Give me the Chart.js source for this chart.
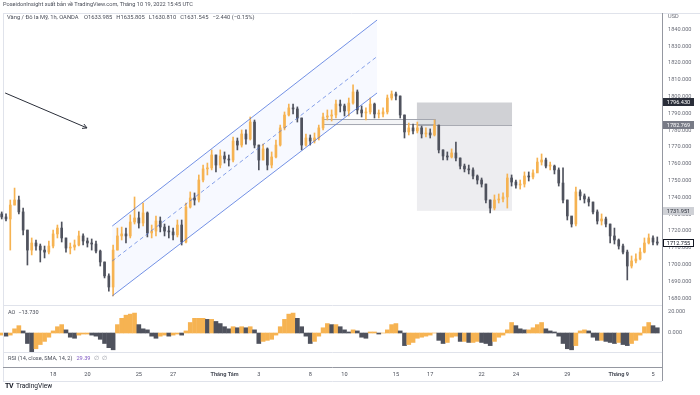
<!DOCTYPE html>
<html>
<head>
<meta charset="utf-8">
<script src="https://cdn.jsdelivr.net/npm/chart.js@4.4.0/dist/chart.umd.min.js"></script>
<style>
body{margin:0;background:#fff;font-family:Roboto,"Liberation Sans",sans-serif;}
#wrap{position:relative;width:700px;height:395px;overflow:hidden;}
#c{position:absolute;left:0;top:0;}
.t{position:absolute;white-space:nowrap;color:#131722;line-height:1;}
#pub{left:3px;top:2px;font-size:5.6px;color:#4a4e59;}
#sym{left:7px;top:15px;font-size:5.8px;color:#4a4e59;}
#sym span{margin-left:4px;}
#ao{left:8px;top:310px;font-size:5.6px;color:#4a4e59;}
#rsi{left:8px;top:356px;font-size:5.6px;color:#4a4e59;}
#rsi .v{color:#7e57c2;margin-left:4px;}
#rsi .n{color:#9598a1;margin-left:3px;}
#logo{left:5px;top:383px;font-size:6.6px;color:#131722;}
#logo b{font-size:7px;letter-spacing:-0.5px;margin-right:3px;}
</style>
</head>
<body>
<div id="wrap">
<canvas id="c" width="700" height="395"></canvas>
<div class="t" id="pub">PoseidonInsight xuất bản về TradingView.com, Tháng 10 19, 2022 15:45 UTC</div>
<div class="t" id="sym">Vàng / Đô la Mỹ, 1h, OANDA <span>O1633.985</span><span>H1635.805</span><span>L1630.810</span><span>C1631.545</span><span>−2.440 (−0.15%)</span></div>
<div class="t" id="ao">AO&nbsp;&nbsp;−13.730</div>
<div class="t" id="rsi">RSI (14, close, SMA, 14, 2)<span class="v">29.39</span><span class="n">∅</span><span class="n">∅</span></div>
<div class="t" id="logo"><b>TV</b>TradingView</div>
</div>
<script>
// gia dong cua, cao, thap (moi nen ~ 6 gio)
const closes = [1728.3,1727.1,1735.4,1738.4,1731.3,1720.5,1708.6,1712.8,1711.0,1708.6,
1707.4,1711.0,1718.2,1721.7,1715.8,1709.8,1710.4,1711.6,1717.0,1714.0,
1712.8,1712.2,1708.0,1701.5,1693.2,1686.6,1708.6,1717.0,1718.2,1717.0,
1725.3,1727.7,1724.7,1730.7,1718.8,1719.9,1725.9,1722.3,1719.9,1719.4,
1717.6,1723.5,1713.4,1734.2,1739.6,1738.4,1750.3,1756.9,1757.5,1765.2,
1759.2,1764.6,1762.8,1762.2,1773.5,1771.1,1777.7,1774.7,1784.8,1771.1,
1762.2,1768.8,1759.2,1764.0,1771.1,1781.3,1789.0,1793.2,1792.6,1787.2,
1771.1,1775.3,1773.5,1775.3,1781.3,1787.8,1788.4,1789.0,1795.5,1794.4,
1791.4,1796.1,1802.7,1792.0,1790.2,1790.8,1795.5,1789.6,1789.6,1790.8,
1799.1,1801.5,1800.3,1789.0,1778.9,1781.3,1779.5,1781.3,1777.7,1778.3,
1777.1,1783.0,1768.2,1764.6,1764.0,1766.4,1763.4,1758.6,1756.9,1756.3,
1752.7,1750.3,1747.9,1738.4,1733.6,1738.4,1739.0,1740.2,1751.5,1749.1,
1747.3,1747.9,1752.7,1752.1,1754.5,1761.0,1762.2,1758.6,1758.6,1756.3,
1748.5,1738.4,1728.9,1724.1,1743.2,1740.8,1739.0,1737.2,1731.3,1725.9,
1727.1,1724.1,1717.0,1714.6,1711.0,1707.4,1699.1,1702.1,1703.3,1707.4,
1712.8,1715.8,1713.4,1712.755];
const highs = [1731.3,1730.1,1738.4,1745.5,1740.8,1733.6,1720.5,1715.8,1714.6,1712.2,
1711.0,1714.0,1720.5,1723.5,1725.3,1715.8,1712.8,1714.6,1719.9,1718.2,
1715.8,1715.2,1714.0,1708.6,1701.5,1694.4,1711.6,1721.7,1722.3,1721.7,
1729.5,1740.2,1731.3,1736.6,1731.3,1723.5,1728.9,1728.3,1724.1,1722.9,
1721.7,1726.5,1726.5,1736.6,1743.2,1742.6,1753.3,1759.2,1760.4,1768.2,
1765.2,1768.2,1767.0,1765.2,1775.9,1775.3,1780.1,1780.1,1787.8,1786.0,
1771.1,1771.7,1769.4,1767.0,1774.1,1783.0,1790.8,1795.5,1795.5,1793.8,
1787.2,1777.7,1777.1,1778.3,1783.0,1790.2,1792.0,1792.0,1797.9,1797.9,
1795.5,1799.1,1806.9,1803.9,1794.4,1793.2,1799.1,1796.1,1792.0,1793.2,
1800.9,1803.3,1802.7,1800.3,1789.0,1784.2,1783.6,1784.8,1782.4,1781.3,
1780.7,1786.0,1783.0,1768.2,1767.0,1768.8,1772.9,1763.4,1759.8,1759.2,
1757.5,1753.3,1751.5,1747.9,1738.4,1741.4,1742.0,1742.6,1753.9,1753.3,
1750.3,1750.3,1755.1,1755.1,1756.3,1763.4,1765.8,1763.4,1761.0,1759.2,
1757.5,1757.5,1738.4,1728.3,1746.1,1744.4,1742.0,1740.2,1737.2,1732.5,
1730.1,1728.3,1724.1,1721.7,1715.2,1712.2,1708.6,1705.1,1706.3,1709.8,
1715.8,1718.2,1717.0,1716.4];
const lows = [1727.1,1725.9,1708.6,1735.4,1730.1,1717.6,1699.7,1705.7,1708.6,1701.5,
1703.9,1706.3,1709.8,1715.8,1713.4,1707.4,1706.3,1708.6,1711.0,1711.6,
1710.4,1708.6,1706.9,1699.1,1692.0,1684.2,1681.3,1708.6,1714.6,1712.8,
1715.8,1724.1,1721.7,1722.9,1716.4,1715.8,1717.0,1719.4,1717.0,1715.8,
1714.6,1716.4,1711.6,1712.8,1733.6,1735.4,1737.2,1749.1,1753.3,1756.3,
1755.1,1757.5,1760.4,1758.6,1761.0,1768.2,1769.9,1771.7,1774.1,1769.4,
1756.3,1762.2,1756.3,1757.5,1763.4,1770.5,1780.1,1788.4,1789.6,1784.8,
1768.2,1770.5,1771.1,1772.3,1774.1,1780.1,1786.0,1785.4,1787.2,1790.8,
1788.4,1788.4,1795.5,1789.6,1787.8,1786.0,1789.6,1787.2,1787.2,1787.8,
1789.6,1797.9,1797.9,1787.2,1775.3,1777.1,1777.7,1778.3,1775.3,1775.9,
1775.3,1776.5,1766.4,1762.2,1762.2,1763.4,1761.6,1756.9,1755.1,1753.9,
1750.9,1747.9,1746.1,1736.6,1730.7,1732.5,1736.6,1737.2,1733.6,1746.7,
1745.5,1744.9,1746.1,1749.7,1750.9,1755.1,1759.2,1757.5,1756.3,1753.9,
1746.7,1736.6,1726.5,1722.3,1722.9,1738.4,1736.6,1734.8,1730.1,1724.1,
1723.5,1722.3,1712.8,1712.2,1709.2,1706.3,1690.8,1697.9,1700.9,1702.7,
1706.9,1712.2,1711.6,1711.6];
const firstOpen = 1730.1;
// mo cua = dong cua cua nen truoc
const opens = [firstOpen].concat(closes.slice(0, -1));

const aoValues = [-2,-3,-2,4,7,2,-10,-18,-15,-11,
-8,-4,2,6,8,3,-4,-5,-2,-1,
-1,-2,-3,-6,-10,-14,-16,8,14,17,
18,19,8,4,3,-3,-5,-3,-2,-3,
-2,-1,-2,2,10,14,14,14,13,13,
11,9,6,4,6,5,6,5,6,3,
-10,-8,-7,-6,-2,6,13,18,19,14,
6,-3,-10,-8,-3,5,9,8,8,6,
3,1,3,2,-4,-5,1,1,-1,0,
3,8,9,2,-12,-11,-9,-5,-4,-3,
-2,0,-7,-10,-9,-4,-3,-8,-8,-9,
-9,-8,-9,-10,-12,-8,-4,-2,3,10,
7,4,3,3,5,8,10,4,2,1,
-3,-10,-15,-16,-12,2,3,2,-4,-7,
-7,-8,-9,-10,-9,-11,-12,-10,-7,-2,
6,10,7,5];

const tickPos = [12,20,32,40,52,60,72,80,92,100,112,120,132,144,152];
const tickLabels = ['18','20','25','27','Tháng Tám','3','8','10','15','17','22','24','29','Tháng 9','5'];
const priceTicks = [1680,1690,1700,1710,1720,1730,1740,1750,1760,1770,1780,1790,1800,1810,1820,1830,1840];
const aoTicks = [0, 20];

// ve tay tren bieu do (toa do = chi so nen, gia)
const channelX = [25.8, 87.6];
const channelUpper = [1722.9, 1845.5];
const channelLower = [1681.3, 1802.1];
const zoneX = [96.9, 119.1];
const zoneLevels = [1796.430, 1782.769, 1731.951];
const rangeBoxX = [75.0, 101.1];
const rangeBoxY = [1786.6, 1783.6];
const arrowX = [0.8, 19.9];
const arrowY = [1802.1, 1781.3];
const lastPrice = 1712.755;

const UP = '#f6b352';
const DOWN = '#4f525d';

function candleColor(i){ return closes[i] >= opens[i] ? UP : DOWN; }

const drawings = {
    id: 'drawings',
    beforeDatasetsDraw(chart) {
        const {ctx, chartArea, scales: {x, y}} = chart;
        ctx.save();
        ctx.beginPath();
        ctx.rect(chartArea.left, y.top, chartArea.width, y.bottom - y.top);
        ctx.clip();
        // vung hop
        const zx0 = x.getPixelForValue(zoneX[0]), zx1 = x.getPixelForValue(zoneX[1]);
        const z0 = y.getPixelForValue(zoneLevels[0]), z1 = y.getPixelForValue(zoneLevels[1]), z2 = y.getPixelForValue(zoneLevels[2]);
        ctx.fillStyle = '#d0d1d5';
        ctx.fillRect(zx0, z0, zx1 - zx0, z1 - z0);
        ctx.fillStyle = '#ededf0';
        ctx.fillRect(zx0, z1, zx1 - zx0, z2 - z1);
        ctx.strokeStyle = '#a9abb3';
        ctx.lineWidth = 1;
        ctx.beginPath();
        ctx.moveTo(zx0, Math.round(z1) + 0.5);
        ctx.lineTo(zx1, Math.round(z1) + 0.5);
        ctx.stroke();
        // kenh
        const cx0 = x.getPixelForValue(channelX[0]), cx1 = x.getPixelForValue(channelX[1]);
        ctx.fillStyle = 'rgba(41,98,255,0.035)';
        ctx.beginPath();
        ctx.moveTo(cx0, y.getPixelForValue(channelUpper[0]));
        ctx.lineTo(cx1, y.getPixelForValue(channelUpper[1]));
        ctx.lineTo(cx1, y.getPixelForValue(channelLower[1]));
        ctx.lineTo(cx0, y.getPixelForValue(channelLower[0]));
        ctx.closePath();
        ctx.fill();
        // hop mong
        const rx0 = x.getPixelForValue(rangeBoxX[0]), rx1 = x.getPixelForValue(rangeBoxX[1]);
        const ry0 = y.getPixelForValue(rangeBoxY[0]), ry1 = y.getPixelForValue(rangeBoxY[1]);
        ctx.fillStyle = 'rgba(235,236,240,0.6)';
        ctx.fillRect(rx0, ry0, rx1 - rx0, ry1 - ry0);
        ctx.strokeStyle = '#a3a6af';
        ctx.strokeRect(Math.round(rx0) + 0.5, Math.round(ry0) + 0.5, rx1 - rx0, ry1 - ry0);
        ctx.restore();
    },
    afterDatasetsDraw(chart) {
        const {ctx, chartArea, scales: {x, y}} = chart;
        ctx.save();
        ctx.beginPath();
        ctx.rect(chartArea.left, y.top, chartArea.width, y.bottom - y.top);
        ctx.clip();
        const cx0 = x.getPixelForValue(channelX[0]), cx1 = x.getPixelForValue(channelX[1]);
        ctx.strokeStyle = 'rgba(70,110,220,0.75)';
        ctx.lineWidth = 1;
        [channelUpper, channelLower].forEach(l => {
            ctx.beginPath();
            ctx.moveTo(cx0, y.getPixelForValue(l[0]));
            ctx.lineTo(cx1, y.getPixelForValue(l[1]));
            ctx.stroke();
        });
        ctx.setLineDash([4, 3]);
        ctx.strokeStyle = 'rgba(70,110,220,0.65)';
        ctx.beginPath();
        ctx.moveTo(cx0, y.getPixelForValue((channelUpper[0] + channelLower[0]) / 2));
        ctx.lineTo(cx1, y.getPixelForValue((channelUpper[1] + channelLower[1]) / 2));
        ctx.stroke();
        ctx.setLineDash([]);
        // mui ten
        const ax0 = x.getPixelForValue(arrowX[0]), ay0 = y.getPixelForValue(arrowY[0]);
        const ax1 = x.getPixelForValue(arrowX[1]), ay1 = y.getPixelForValue(arrowY[1]);
        ctx.strokeStyle = '#2a2e39';
        ctx.beginPath();
        ctx.moveTo(ax0, ay0);
        ctx.lineTo(ax1, ay1);
        const ang = Math.atan2(ay1 - ay0, ax1 - ax0);
        ctx.moveTo(ax1 - 5 * Math.cos(ang - 0.5), ay1 - 5 * Math.sin(ang - 0.5));
        ctx.lineTo(ax1, ay1);
        ctx.lineTo(ax1 - 5 * Math.cos(ang + 0.5), ay1 - 5 * Math.sin(ang + 0.5));
        ctx.stroke();
        ctx.restore();
    },
    afterDraw(chart) {
        const {ctx, chartArea, scales: {x, y, yAO}} = chart;
        ctx.save();
        ctx.lineWidth = 1;
        // khung, duong chia
        ctx.strokeStyle = '#e0e3eb';
        const hl = (yy, x0, x1) => { ctx.beginPath(); ctx.moveTo(x0, Math.round(yy) + 0.5); ctx.lineTo(x1, Math.round(yy) + 0.5); ctx.stroke(); };
        hl(chartArea.top, 3, 700);
        hl(y.bottom, 3, chartArea.right);
        hl(yAO.bottom, 3, chartArea.right);
        hl(x.bottom + 1, 3, chartArea.right);
        ctx.beginPath(); ctx.moveTo(3.5, chartArea.top); ctx.lineTo(3.5, x.bottom + 1); ctx.stroke();
        ctx.strokeStyle = '#9598a1';
        hl(chartArea.bottom, 3, chartArea.right);
        ctx.beginPath(); ctx.moveTo(chartArea.right + 0.5, chartArea.top); ctx.lineTo(chartArea.right + 0.5, x.bottom + 1); ctx.stroke();
        // nhan gia
        ctx.font = '5.6px Roboto';
        ctx.textBaseline = 'middle';
        ctx.fillStyle = '#6a6d78';
        ctx.textAlign = 'left';
        ctx.fillText('USD', chartArea.right + 6, chartArea.top + 4);
        const box = (v, bg, fg, border) => {
            const py = Math.round(y.getPixelForValue(v));
            ctx.fillStyle = bg;
            ctx.fillRect(chartArea.right + 1, py - 4, 31, 8);
            if (border) { ctx.strokeStyle = border; ctx.strokeRect(chartArea.right + 1.5, py - 3.5, 30, 7); }
            ctx.fillStyle = fg;
            ctx.textAlign = 'center';
            ctx.fillText(v.toFixed(3), chartArea.right + 16.5, py + 0.5);
        };
        box(zoneLevels[0], '#2a2e39', '#ffffff');
        box(zoneLevels[1], '#787b86', '#ffffff');
        box(zoneLevels[2], '#cfd1d6', '#2a2e39');
        box(lastPrice, '#ffffff', '#131722', '#131722');
        ctx.restore();
    }
};

const sharedY = {
    position: 'right',
    stack: 'panes',
    grid: {display: false, drawTicks: false},
    border: {display: false},
    afterFit(s) { s.width = 38; }
};

new Chart(document.getElementById('c'), {
    type: 'bar',
    data: {
        datasets: [{
            label: 'wick',
            data: closes.map((c, i) => ({x: i, y: [lows[i], highs[i]]})),
            backgroundColor: closes.map((c, i) => candleColor(i)),
            barThickness: 1,
            grouped: false,
            yAxisID: 'y',
            order: 2
        }, {
            label: 'body',
            data: closes.map((c, i) => ({x: i, y: [opens[i], c]})),
            backgroundColor: closes.map((c, i) => candleColor(i)),
            barThickness: 2,
            minBarLength: 1,
            grouped: false,
            yAxisID: 'y',
            order: 1
        }, {
            label: 'AO',
            data: aoValues.map((v, i) => ({x: i, y: v})),
            backgroundColor: aoValues.map((v, i) => (i === 0 || v >= aoValues[i - 1]) ? UP : DOWN),
            barThickness: 4,
            grouped: false,
            yAxisID: 'yAO'
        }]
    },
    options: {
        responsive: false,
        animation: false,
        layout: {padding: {top: 13, left: 0, right: 0, bottom: 15}},
        plugins: {legend: {display: false}, tooltip: {enabled: false}},
        scales: {
            x: {
                type: 'linear',
                min: -0.4,
                max: 154.1,
                offset: false,
                grid: {display: false, drawTicks: false},
                border: {display: false},
                afterBuildTicks(s) { s.ticks = tickPos.map(v => ({value: v})); },
                afterFit(s) { s.height = 13; },
                ticks: {
                    autoSkip: false,
                    maxRotation: 0,
                    padding: 4,
                    color: '#4a4e59',
                    font: (c) => ({family: 'Roboto', size: 5.6, weight: (c.tick && String(c.tick.label).startsWith('Tháng')) ? 'bold' : 'normal'}),
                    callback: (v) => tickLabels[tickPos.indexOf(v)]
                }
            },
            y: Object.assign({}, sharedY, {
                weight: 1,
                stackWeight: 292,
                min: 1675.9,
                max: 1849.7,
                afterBuildTicks(s) { s.ticks = priceTicks.map(v => ({value: v})); },
                ticks: {autoSkip: false, padding: 6, color: '#6a6d78', font: {family: 'Roboto', size: 5.6}, callback: (v) => v.toFixed(3)}
            }),
            yAO: Object.assign({}, sharedY, {
                weight: 2,
                stackWeight: 47,
                min: -18.1,
                max: 26.7,
                afterBuildTicks(s) { s.ticks = aoTicks.map(v => ({value: v})); },
                ticks: {autoSkip: false, padding: 6, color: '#6a6d78', font: {family: 'Roboto', size: 5.6}, callback: (v) => v.toFixed(3)}
            }),
            yRSI: Object.assign({}, sharedY, {
                weight: 3,
                stackWeight: 15,
                min: 0,
                max: 100,
                ticks: {display: false}
            })
        }
    },
    plugins: [drawings]
});
</script>
</body>
</html>
